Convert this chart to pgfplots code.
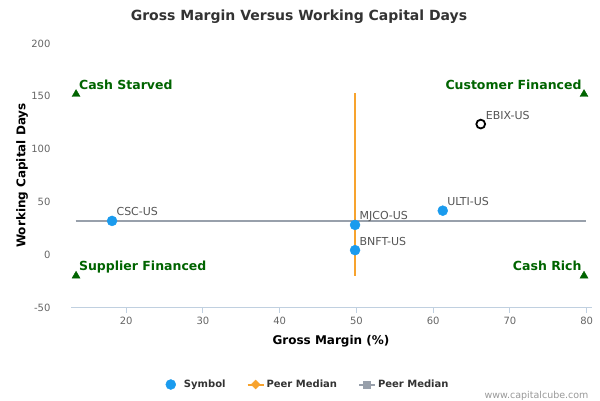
\documentclass[border=0pt]{standalone}
\usepackage{pgfplots}
\pgfplotsset{compat=1.18}
\usepackage{fontspec}
\setmainfont{DejaVu Sans}

\definecolor{symblue}{HTML}{1A9BEE}
\definecolor{medorange}{HTML}{F7A32E}
\definecolor{medgray}{HTML}{98A0AB}
\definecolor{axisblue}{HTML}{C0D0E0}
\definecolor{tickgray}{HTML}{666666}
\definecolor{labelgray}{HTML}{555555}
\definecolor{titlegray}{HTML}{333333}
\definecolor{quadgreen}{HTML}{006400}
\newcommand{\fs}[1]{\fontsize{#1}{#1}\selectfont}

\begin{document}
\begin{tikzpicture}
\fill[white] (0,0) rectangle (600pt,400pt);
\path[use as bounding box] (0,0) rectangle (600pt,400pt);
\begin{axis}[
    at={(71pt,92.5pt)}, anchor=south west,
    scale only axis, width=521pt, height=264pt,
    xmin=12.8, xmax=80.7, ymin=-50, ymax=200,
    xtick={20,30,...,80}, ytick={-50,0,...,200},
    axis x line*=bottom, axis y line*=left,
    x axis line style={draw=axisblue, line width=1pt, -},
    y axis line style={draw=none, -},
    xtick style={draw=axisblue, line width=1pt},
    ytick style={draw=none},
    tick align=outside, major tick length=5pt,
    tick label style={font=\fs{10}, text=tickgray},
    /pgf/number format/assume math mode=true,
    yticklabel style={xshift=-12pt},
    xticklabel style={yshift=-1pt},
    xlabel={Gross Margin (\%)},
    ylabel={Working Capital Days},
    xlabel style={at={(axis description cs:0.499,-0.129)}, anchor=center, font=\bfseries\fs{12}, text=black},
    ylabel style={at={(axis description cs:-0.094,0.5)}, anchor=center, font=\bfseries\fs{12}, text=black},
    title={Gross Margin Versus Working Capital Days},
    title style={at={(axis description cs:0.4376,1.079)}, anchor=center, font=\bfseries\fs{14}, text=titlegray},
    clip=false,
    legend columns=3,
    legend style={at={(axis description cs:0.455,-0.2917)}, anchor=center, draw=none, fill=none,
        font=\bfseries\fs{10}, text=titlegray,
        /tikz/every even column/.append style={column sep=19pt}},
    legend cell align=left,
]

% peer medians
\addplot[medgray, line width=2pt, forget plot] coordinates {(13.4,32) (79.9,32)};
\addplot[medorange, line width=2pt, forget plot] coordinates {(49.82,-20) (49.82,152.7)};

% quadrant markers
\addplot[only marks, mark=triangle*, mark size=4.6pt, color=quadgreen, forget plot,
    nodes near coords, point meta=explicit symbolic,
    nodes near coords style={anchor=base west, xshift=-0.5pt, yshift=5pt, font=\bfseries\fs{12.5}, text=quadgreen}]
    table[meta=label] {
x y label
13.46 152 {Cash Starved}
13.46 -20 {Supplier Financed}
};
\addplot[only marks, mark=triangle*, mark size=4.6pt, color=quadgreen, forget plot,
    nodes near coords, point meta=explicit symbolic,
    nodes near coords style={anchor=base east, xshift=1pt, yshift=5pt, font=\bfseries\fs{12.5}, text=quadgreen}]
    table[meta=label] {
x y label
79.66 152 {Customer Financed}
79.66 -20 {Cash Rich}
};

% subject company
\addplot[only marks, mark=o, mark size=4.4pt, mark options={line width=1.8pt, draw=black}, forget plot,
    nodes near coords, point meta=explicit symbolic,
    nodes near coords style={anchor=base west, xshift=1pt, yshift=5pt, font=\fs{11}, text=labelgray}]
    table[meta=label] {
x y label
66.2 123.7 EBIX-US
};

% peers
\addplot[only marks, mark=*, mark size=5pt, mark options={fill=symblue, draw=symblue},
    nodes near coords, point meta=explicit symbolic,
    nodes near coords style={anchor=base west, xshift=1pt, yshift=5pt, font=\fs{11}, text=labelgray},
    legend image code/.code={\fill[symblue] (0pt,0pt) circle (5pt); \path (11pt,0pt);}]
    table[meta=label] {
x y label
18.15 32 CSC-US
49.82 28.2 MJCO-US
49.82 4.3 BNFT-US
61.25 41.7 ULTI-US
};
\addlegendentry{Symbol}
\addlegendimage{legend image code/.code={
    \draw[medorange, line width=2pt] (0pt,0pt) -- (16pt,0pt);
    \fill[medorange] (8pt,4.5pt) -- (12.5pt,0pt) -- (8pt,-4.5pt) -- (3.5pt,0pt) -- cycle;}}
\addlegendentry{Peer Median}
\addlegendimage{legend image code/.code={
    \draw[medgray, line width=2pt] (0pt,0pt) -- (16pt,0pt);
    \fill[medgray] (4.5pt,-3.5pt) rectangle (11.5pt,3.5pt);}}
\addlegendentry{Peer Median}

\node[anchor=east, font=\fs{9.5}, text=gray!80] at (axis description cs:1.0,-0.333) {www.capitalcube.com};
\end{axis}
\end{tikzpicture}
\end{document}
